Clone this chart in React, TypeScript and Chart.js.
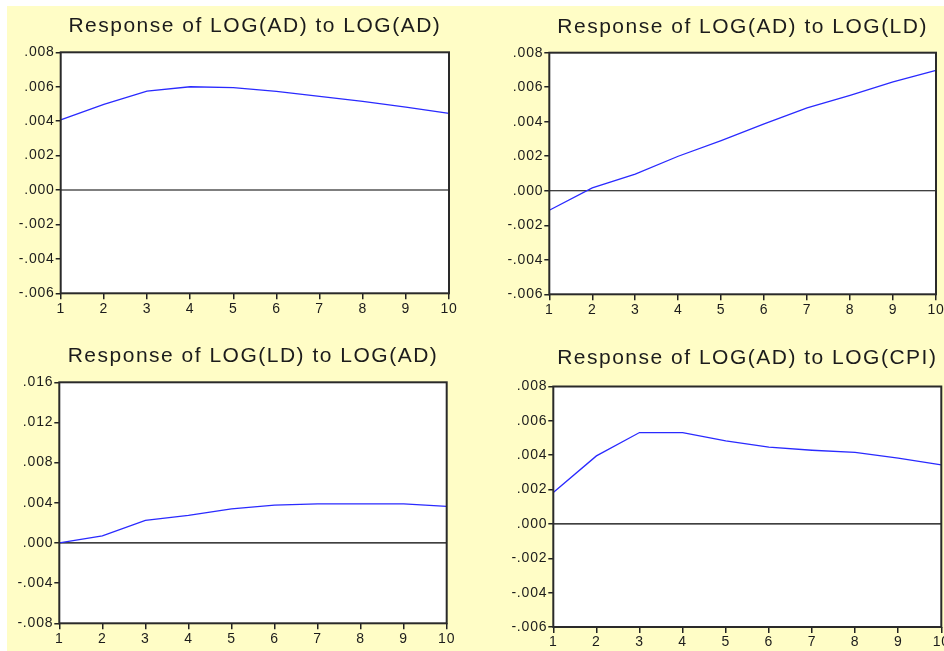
import React, { useEffect, useRef } from 'react';
import { Chart, registerables } from 'chart.js';

Chart.register(...registerables);

// ---------- data ----------
const PERIODS = ['1', '2', '3', '4', '5', '6', '7', '8', '9', '10'];

const AD_TO_AD = [0.00407, 0.00498, 0.00575, 0.006, 0.00595, 0.00573, 0.00544, 0.00515, 0.00482, 0.00445];
const AD_TO_LD = [-0.00113, 0.00017, 0.00097, 0.002, 0.00291, 0.00388, 0.0048, 0.00553, 0.00631, 0.00697];
const LD_TO_AD = [0.0, 0.0007, 0.00224, 0.00274, 0.0034, 0.00377, 0.0039, 0.0039, 0.0039, 0.00364];
const AD_TO_CPI = [0.00183, 0.00396, 0.00532, 0.00532, 0.00483, 0.00447, 0.00429, 0.00416, 0.00383, 0.00344];

const TICKS_NARROW = [-0.006, -0.004, -0.002, 0, 0.002, 0.004, 0.006, 0.008];
const TICKS_WIDE = [-0.008, -0.004, 0, 0.004, 0.008, 0.012, 0.016];

const TITLE_AD_AD = 'Response of LOG(AD) to LOG(AD)';
const TITLE_AD_LD = 'Response of LOG(AD) to LOG(LD)';
const TITLE_LD_AD = 'Response of LOG(LD) to LOG(AD)';
const TITLE_AD_CPI = 'Response of LOG(AD) to LOG(CPI)';

const BASELINE = 0;

// ---------- styling ----------
const FONT = "'Liberation Sans', Arial, Helvetica, sans-serif";
const YELLOW = '#FFFDC6';
const LINE_BLUE = '#2a2aff';
const INK = '#1c1c1c';

type PanelCfg = {
  title: string;
  values: number[];
  ticks: number[];
  left: number;
  top: number;
  width: number;
  height: number;
  yAxisW: number;
  xAxisH: number;
  padTop: number;
  padRight: number;
  titleBaseline: number;
};

const PANELS: PanelCfg[] = [
  { title: TITLE_AD_AD, values: AD_TO_AD, ticks: TICKS_NARROW, left: 7, top: 6, width: 475, height: 320,
    yAxisW: 53.7, xAxisH: 32.7, padTop: 46.3, padRight: 33, titleBaseline: 25.7 },
  { title: TITLE_AD_LD, values: AD_TO_LD, ticks: TICKS_NARROW, left: 490, top: 6, width: 470, height: 320,
    yAxisW: 59.3, xAxisH: 31.7, padTop: 46.7, padRight: 24, titleBaseline: 26.7 },
  { title: TITLE_LD_AD, values: LD_TO_AD, ticks: TICKS_WIDE, left: 7, top: 330, width: 475, height: 330,
    yAxisW: 52.3, xAxisH: 36.7, padTop: 52.3, padRight: 35.3, titleBaseline: 32.3 },
  { title: TITLE_AD_CPI, values: AD_TO_CPI, ticks: TICKS_NARROW, left: 490, top: 330, width: 470, height: 330,
    yAxisW: 63.3, xAxisH: 33, padTop: 56.5, padRight: 18.7, titleBaseline: 34.3 },
];

function fmtTick(v: number): string {
  const s = Number(v).toFixed(3);
  if (s === '-0.000') return '.000';
  return s.replace(/^(-?)0\./, '$1.');
}

function Panel({ cfg }: { cfg: PanelCfg }) {
  const ref = useRef<HTMLCanvasElement | null>(null);

  useEffect(() => {
    const canvas = ref.current;
    if (!canvas) return;

    const decor = {
      id: 'panelDecor',
      beforeDraw(chart: any) {
        const { ctx, chartArea: a } = chart;
        ctx.save();
        ctx.fillStyle = '#ffffff';
        ctx.fillRect(a.left, a.top, a.right - a.left, a.bottom - a.top);
        ctx.restore();
        try { (ctx as any).letterSpacing = '0.8px'; } catch (e) {}
      },
      beforeDatasetsDraw(chart: any) {
        const { ctx, chartArea: a } = chart;
        const y = chart.scales.y.getPixelForValue(BASELINE);
        ctx.save();
        ctx.strokeStyle = '#000000';
        ctx.lineWidth = 1.2;
        ctx.beginPath();
        ctx.moveTo(a.left, y);
        ctx.lineTo(a.right, y);
        ctx.stroke();
        ctx.restore();
      },
      afterDraw(chart: any) {
        const { ctx, chartArea: a } = chart;
        ctx.save();
        ctx.strokeStyle = '#2a2a2a';
        ctx.lineWidth = 2;
        ctx.strokeRect(a.left, a.top, a.right - a.left, a.bottom - a.top);
        ctx.fillStyle = INK;
        ctx.font = `21px ${FONT}`;
        try { (ctx as any).letterSpacing = '1.5px'; } catch (e) {}
        ctx.textAlign = 'center';
        ctx.textBaseline = 'alphabetic';
        ctx.fillText(cfg.title, (a.left + a.right) / 2, cfg.titleBaseline);
        ctx.restore();
      },
    };

    const chart = new Chart(canvas, {
      type: 'line',
      data: {
        labels: PERIODS,
        datasets: [
          {
            data: cfg.values,
            borderColor: LINE_BLUE,
            borderWidth: 1.3,
            pointRadius: 0,
            tension: 0,
            fill: false,
          },
        ],
      },
      options: {
        responsive: false,
        animation: false,
        events: [],
        layout: { padding: { top: cfg.padTop, right: cfg.padRight, left: 0, bottom: 0 } },
        plugins: {
          legend: { display: false },
          tooltip: { enabled: false },
          title: { display: false },
        },
        scales: {
          x: {
            type: 'category',
            offset: false,
            border: { display: false },
            grid: { drawOnChartArea: false, drawTicks: true, tickLength: 6, color: '#222', lineWidth: 1.5 },
            ticks: {
              color: INK,
              font: { family: FONT, size: 14 },
              padding: 1,
              maxRotation: 0,
              autoSkip: false,
            },
            afterFit: (s: any) => { s.height = cfg.xAxisH; },
          },
          y: {
            min: cfg.ticks[0],
            max: cfg.ticks[cfg.ticks.length - 1],
            border: { display: false },
            grid: { drawOnChartArea: false, drawTicks: true, tickLength: 5, color: '#222', lineWidth: 1.5 },
            afterBuildTicks: (s: any) => { s.ticks = cfg.ticks.map((v) => ({ value: v })); },
            ticks: {
              color: INK,
              font: { family: FONT, size: 14 },
              padding: 1,
              callback: (v: any) => fmtTick(Number(v)),
            },
            afterFit: (s: any) => { s.width = cfg.yAxisW; },
          },
        },
      } as any,
      plugins: [decor],
    });

    return () => chart.destroy();
  }, [cfg]);

  return (
    <canvas
      ref={ref}
      width={cfg.width}
      height={cfg.height}
      style={{ position: 'absolute', left: cfg.left, top: cfg.top, width: cfg.width, height: cfg.height, display: 'block' }}
    />
  );
}

export default function App() {
  return (
    <div style={{ position: 'fixed', left: 0, top: 0, width: 944, height: 651, overflow: 'hidden', background: '#ffffff' }}>
      <div style={{ position: 'absolute', left: 7, top: 6, right: 0, bottom: 0, background: YELLOW }} />
      {PANELS.map((p) => (
        <Panel key={p.title} cfg={p} />
      ))}
    </div>
  );
}
